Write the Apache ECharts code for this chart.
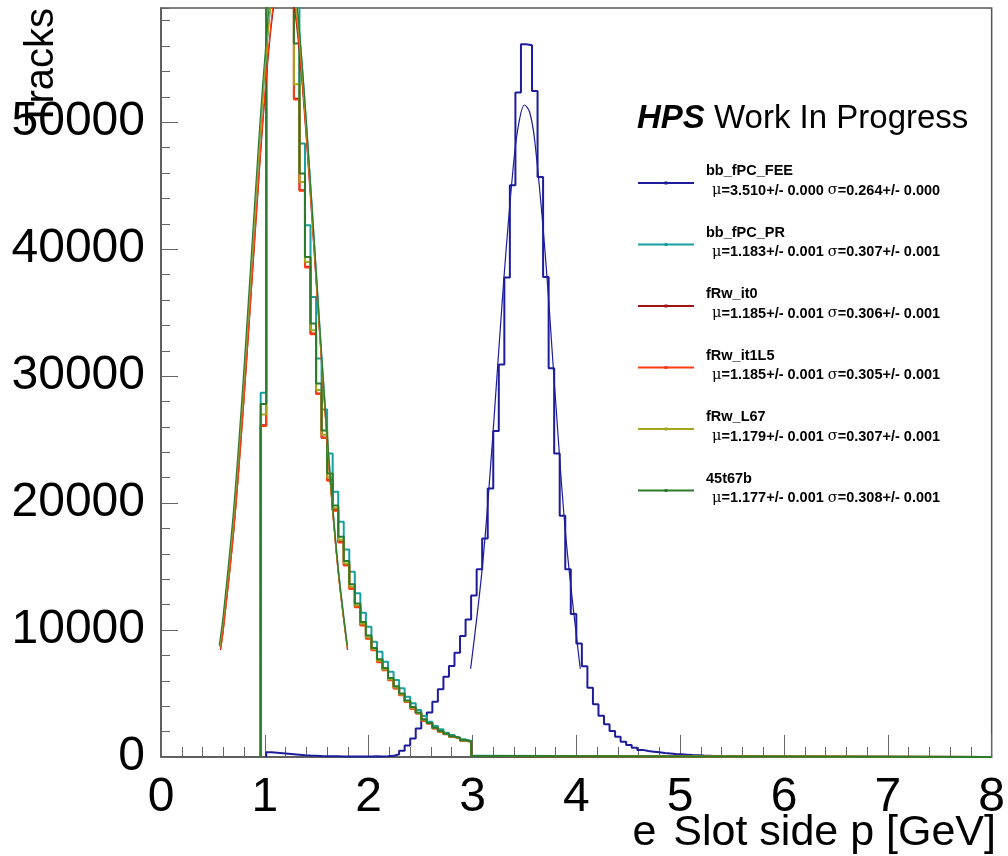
<!DOCTYPE html>
<html>
<head>
<meta charset="utf-8">
<script src="https://cdn.jsdelivr.net/npm/echarts@6/dist/echarts.min.js"></script>
<style>html,body{margin:0;padding:0;background:#fff}#c{width:1008px;height:856px}</style>
</head>
<body>
<div id="c"></div>
<script>
// ---- histogram binning ----
const xMin = 0, xMax = 8, nBins = 150;
const xTicks = [0, 1, 2, 3, 4, 5, 6, 7, 8];
const yTicks = [0, 10000, 20000, 30000, 40000, 50000];

// ---- bb_fPC_FEE (blue), bins 19..112 ----
const feeFirstBin = 19;
const feeCounts = [380, 340, 300, 260, 220, 180, 140, 110, 90, 70, 60, 50, 50, 40, 40, 40, 30, 40, 30, 50, 40, 60, 90,
  220, 500, 900, 1450, 2250, 2950, 3500, 4360, 5330, 6330, 7170, 8210, 9530, 10840, 12730, 14780, 17220, 21150, 25670,
  30920, 37770, 45040, 52340, 56140, 56060, 52470, 45690, 37820, 30630, 23900, 19000, 14780, 11260, 8950, 7150, 5450,
  4150, 3250, 2580, 2050, 1600, 1200, 940, 730, 560, 470, 420, 370, 320, 280, 240, 210, 180, 150, 130, 110, 95, 80, 70,
  60, 50, 45, 40, 35, 30, 25, 22, 18, 15, 12, 10];

// ---- low-momentum histograms, bins 18..56 ----
const lowFirstBin = 18;
const prCounts = [28690, 64000, 69000, 70000, 68000, 64500, 60500, 48320, 41890, 36240, 31390, 27380, 23910, 20890, 18530,
  16350, 14590, 12890, 11360, 10260, 9080, 8290, 7500, 6720, 6060, 5410, 4750, 4230, 3700, 3230, 2780, 2440, 2180, 1920,
  1730, 1550, 1390, 1290, 90];
const it0Counts = [26140, 62000, 67000, 68000, 66000, 62500, 51860, 44650, 38610, 33360, 28640, 25170, 21810, 19450, 16950,
  15120, 13280, 11830, 10390, 9350, 8430, 7500, 6850, 6060, 5410, 4880, 4360, 3830, 3440, 2860, 2650, 2260, 2000, 1810,
  1600, 1470, 1290, 1210, 80];
const it1L5Counts = [26080, 62200, 67200, 68100, 66200, 62600, 51800, 44600, 38560, 33300, 28600, 25120, 21760, 19400, 16900,
  15080, 13240, 11790, 10360, 9320, 8400, 7470, 6830, 6040, 5390, 4860, 4340, 3810, 3420, 2850, 2640, 2250, 1990, 1800,
  1590, 1460, 1280, 1200, 80];
const l67Counts = [26980, 63000, 68000, 69000, 67000, 63500, 53000, 45300, 38990, 33620, 28900, 25390, 22020, 19590, 17110,
  15240, 13410, 11940, 10490, 9440, 8500, 7580, 6920, 6130, 5480, 4930, 4400, 3870, 3470, 2900, 2660, 2280, 2020, 1820,
  1610, 1480, 1300, 1220, 80];
const t67bCounts = [27800, 63500, 68500, 69500, 67500, 64000, 56200, 45960, 39390, 34150, 29420, 25720, 22340, 19810, 17350,
  15430, 13610, 12100, 10630, 9580, 8590, 7700, 7010, 6230, 5570, 5010, 4460, 3930, 3510, 2950, 2680, 2310, 2050, 1840,
  1630, 1490, 1320, 1230, 85];

// ---- Gaussian fit curves ----
const feeFitX = [2.982, 3.1, 3.2, 3.3, 3.4, 3.45, 3.5, 3.55, 3.6, 3.7, 3.8, 3.9, 4.038];
const feeFitY = [6955, 15390, 25800, 37460, 47130, 50090, 51360, 50810, 48500, 39670, 28120, 17260, 6955];
const prFitX = [0.569, 0.6, 0.7, 0.8, 0.9, 1.0, 1.1, 1.2, 1.3, 1.4, 1.5, 1.6, 1.7, 1.797];
const prFitY = [8700, 10600, 18650, 29530, 42050, 53830, 61990, 64200, 59800, 50090, 37730, 25560, 15570, 8700];
const it0FitX = [0.573, 0.6, 0.7, 0.8, 0.9, 1.0, 1.1, 1.2, 1.3, 1.4, 1.5, 1.6, 1.7, 1.797];
const it0FitY = [8430, 10020, 17740, 28230, 40380, 51890, 59940, 62230, 58050, 48680, 36680, 24840, 15110, 8430];
const it1L5FitX = [0.575, 0.6, 0.7, 0.8, 0.9, 1.0, 1.1, 1.2, 1.3, 1.4, 1.5, 1.6, 1.7, 1.795];
const it1L5FitY = [8500, 9980, 17740, 28310, 40580, 52240, 60410, 62730, 58490, 48980, 36840, 24890, 15100, 8500];
const l67FitX = [0.565, 0.6, 0.7, 0.8, 0.9, 1.0, 1.1, 1.2, 1.3, 1.4, 1.5, 1.6, 1.7, 1.793];
const l67FitY = [8660, 10810, 18940, 29870, 42350, 54000, 61910, 63850, 59220, 49390, 37050, 25000, 15160, 8660];
const t67bFitX = [0.561, 0.6, 0.7, 0.8, 0.9, 1.0, 1.1, 1.2, 1.3, 1.4, 1.5, 1.6, 1.7, 1.793];
const t67bFitY = [8800, 11240, 19590, 30730, 43380, 55110, 63000, 64820, 60020, 50010, 37510, 25320, 15370, 8800];

// ---- legend ----
const names = ['bb_fPC_FEE', 'bb_fPC_PR', 'fRw_it0', 'fRw_it1L5', 'fRw_L67', '45t67b'];
const means = ['3.510', '1.183', '1.185', '1.185', '1.179', '1.177'];
const meanErrs = ['0.000', '0.001', '0.001', '0.001', '0.001', '0.001'];
const sigmas = ['0.264', '0.307', '0.306', '0.305', '0.307', '0.308'];
const sigmaErrs = ['0.000', '0.001', '0.001', '0.001', '0.001', '0.001'];
const colors = ['#1c1c9c', '#17a0a0', '#a31212', '#ff3d12', '#a6a61c', '#2c7a2c'];

// ---- build ----
function edge(k) { return xMin + k * (xMax - xMin) / nBins; }
function histPoints(first, counts) {
  const pts = [[edge(first), 0]];
  counts.forEach(function (v, i) { pts.push([edge(first + i), v], [edge(first + i + 1), v]); });
  pts.push([edge(first + counts.length), 0], [xMax, 0]);
  return pts;
}
function zip(xs, ys) { return xs.map(function (x, i) { return [x, ys[i]]; }); }

const hists = [
  [feeFirstBin, feeCounts], [lowFirstBin, prCounts], [lowFirstBin, it0Counts],
  [lowFirstBin, it1L5Counts], [lowFirstBin, l67Counts], [lowFirstBin, t67bCounts]
];
const fits = [[feeFitX, feeFitY], [prFitX, prFitY], [it0FitX, it0FitY], [it1L5FitX, it1L5FitY], [l67FitX, l67FitY], [t67bFitX, t67bFitY]];

const series = [];
hists.forEach(function (h, i) {
  series.push({
    name: names[i], type: 'line', data: histPoints(h[0], h[1]), showSymbol: false, symbol: 'none',
    clip: true, silent: true, z: 2 + i, lineStyle: { color: colors[i], width: 2 }
  });
});
fits.forEach(function (f, i) {
  series.push({
    name: names[i] + '_fit', type: 'line', data: zip(f[0], f[1]), showSymbol: false, symbol: 'none',
    smooth: 0.35, clip: true, silent: true, z: 10 + i, lineStyle: { color: colors[i], width: 1.2 }
  });
});

const axisColor = '#555';
const font = 'Liberation Sans, Arial, Helvetica, sans-serif';

const graphic = [];
graphic.push({
  type: 'text', x: 637, y: 118.5, z: 50,
  style: {
    text: '{b|HPS} Work In Progress', fontFamily: font, fontSize: 33, fill: '#000', verticalAlign: 'middle',
    rich: { b: { fontFamily: font, fontSize: 33, fontWeight: 'bold', fontStyle: 'italic', fill: '#000' } }
  }
});
names.forEach(function (n, i) {
  const y = 183 + 61.5 * i;
  graphic.push({ type: 'line', z: 50, shape: { x1: 638, y1: y, x2: 694, y2: y }, style: { stroke: colors[i], lineWidth: 2 } });
  graphic.push({ type: 'rect', z: 51, shape: { x: 664.5, y: y - 1.5, width: 3, height: 3 }, style: { fill: colors[i] } });
  graphic.push({
    type: 'text', z: 50, x: 706, y: y - 12, style: {
      text: n, fontFamily: font, fontSize: 14.5, fontWeight: 'bold', fill: '#000', verticalAlign: 'middle'
    }
  });
  graphic.push({
    type: 'text', z: 50, x: 712, y: y + 7.5, style: {
      text: '{g|\u03bc}=' + means[i] + '+/- ' + meanErrs[i] + ' {g|\u03c3}=' + sigmas[i] + '+/- ' + sigmaErrs[i],
      fontFamily: font, fontSize: 14.5, fontWeight: 'bold', fill: '#000', verticalAlign: 'middle',
      rich: { g: { fontFamily: 'DejaVu Serif, Liberation Serif, serif', fontSize: 14.5, fontWeight: 'normal', fill: '#000' } }
    }
  });
});
// axis titles
graphic.push({
  type: 'text', z: 50, x: 62, y: 8, rotation: Math.PI / 2,
  style: { text: 'Tracks', fontFamily: font, fontSize: 40, fill: '#000', align: 'right', verticalAlign: 'bottom' }
});
graphic.push({
  type: 'text', z: 50, x: 996, y: 833,
  style: {
    text: 'e{gap| }Slot side p [GeV]', fontFamily: font, fontSize: 43, fill: '#000', align: 'right', verticalAlign: 'middle',
    rich: { gap: { fontFamily: font, fontSize: 43, fill: '#000', padding: [0, 5, 0, 0] } }
  }
});

const chart = echarts.init(document.getElementById('c'), null, { renderer: 'canvas' });
chart.setOption({
  animation: false,
  backgroundColor: '#fff',
  grid: { left: 161, right: 11, top: 8, bottom: 99, show: true, borderColor: axisColor, borderWidth: 1.5, backgroundColor: 'transparent' },
  xAxis: {
    type: 'value', min: xTicks[0], max: xTicks[xTicks.length - 1], interval: 1,
    axisLine: { show: true, onZero: false, lineStyle: { color: axisColor, width: 1.5 } },
    axisTick: { show: true, inside: true, length: 22, lineStyle: { color: '#666', width: 1 } },
    minorTick: { show: true, splitNumber: 5, length: 10, lineStyle: { color: '#666', width: 1 } },
    axisLabel: { fontFamily: font, fontSize: 48, color: '#000', margin: 17 },
    splitLine: { show: false }
  },
  yAxis: [{
    type: 'value', min: yTicks[0], max: 59000, interval: 10000,
    axisLine: { show: true, lineStyle: { color: axisColor, width: 1.5 } },
    axisTick: { show: true, inside: true, length: 17, lineStyle: { color: '#666', width: 1 } },
    axisLabel: { fontFamily: font, fontSize: 48, color: '#000', margin: 16, showMaxLabel: false,
      formatter: function (v) { return yTicks.indexOf(v) >= 0 ? String(v) : ''; } },
    splitLine: { show: false }
  }, {
    type: 'value', min: 0, max: 59000, interval: 2000, position: 'left', offset: 0,
    axisLine: { show: false }, axisLabel: { show: false }, splitLine: { show: false },
    axisTick: { show: true, inside: true, length: 9, lineStyle: { color: '#666', width: 1 } }
  }],
  series: series,
  graphic: graphic
});
</script>
</body>
</html>
